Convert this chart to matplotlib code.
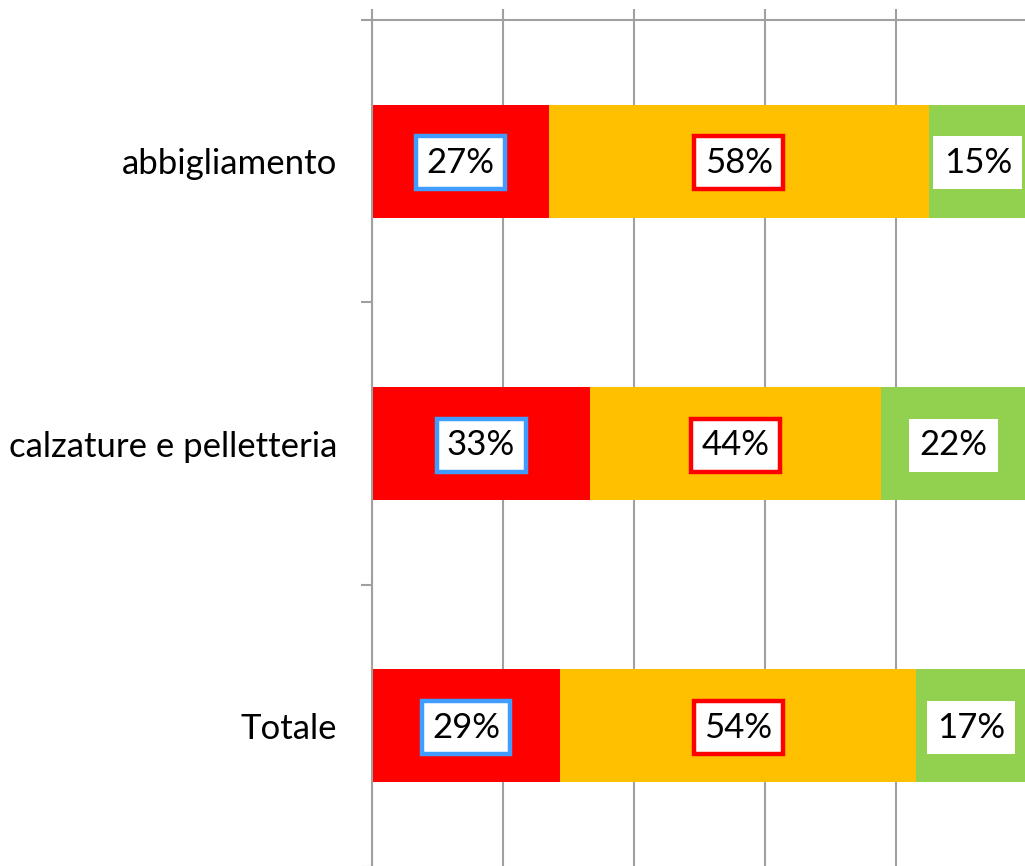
import matplotlib.pyplot as plt

plt.rcParams['font.family'] = ['Lato', 'DejaVu Sans']

categories = ['abbigliamento', 'calzature e pelletteria', 'Totale']
red_vals = [27.0, 33.3, 28.7]
orange_vals = [58.0, 44.4, 54.4]
green_vals = [15.0, 22.2, 16.7]

colors = ['#FF0000', '#FFC000', '#92D050']
label_edges = ['#409CFF', '#FF0000', 'none']
grid_col = '#A0A0A0'

fig = plt.figure(figsize=(10.25, 8.66), dpi=100)
ax = fig.add_axes([372 / 1025, -1 / 866, 655 / 1025, 847 / 866])

ypos = list(range(len(categories)))
left = [0.0] * len(categories)
for vals, col, edge in zip([red_vals, orange_vals, green_vals], colors, label_edges):
    ax.barh(ypos, vals, left=left, height=0.4, color=col, zorder=2)
    for y, v, l in zip(ypos, vals, left):
        ax.text(l + v / 2, y + 0.006, f'{v:.0f}%', ha='center', va='center',
                fontsize=25, color='black', zorder=4,
                bbox=dict(boxstyle='square,pad=0.3', facecolor='white',
                          edgecolor=edge, linewidth=3.2 if edge != 'none' else 0))
    left = [a + b for a, b in zip(left, vals)]

ax.set_xlim(0, 100)
ax.set_ylim(2.5, -0.5)

# x axis on top, ticks only
ax.xaxis.tick_top()
ax.set_xticks([0, 20, 40, 60, 80, 100])
ax.set_xticklabels([])
ax.tick_params(axis='x', direction='out', length=8, width=1.5, color=grid_col)
ax.grid(axis='x', color=grid_col, linewidth=1.5, zorder=1)
ax.set_axisbelow(True)

# category boundaries as ticks, names at minor positions
ax.set_yticks([-0.5, 0.5, 1.5, 2.5])
ax.set_yticklabels([])
ax.tick_params(axis='y', which='major', direction='out', length=8, width=1.5, color=grid_col)
ax.set_yticks(ypos, minor=True)
ax.set_yticklabels(categories, minor=True, fontsize=25)
ax.tick_params(axis='y', which='minor', length=0, pad=25)

for s in ['right', 'bottom']:
    ax.spines[s].set_visible(False)
for s in ['left', 'top']:
    ax.spines[s].set_color(grid_col)
    ax.spines[s].set_linewidth(1.5)

fig.savefig('out.png', dpi=100)
